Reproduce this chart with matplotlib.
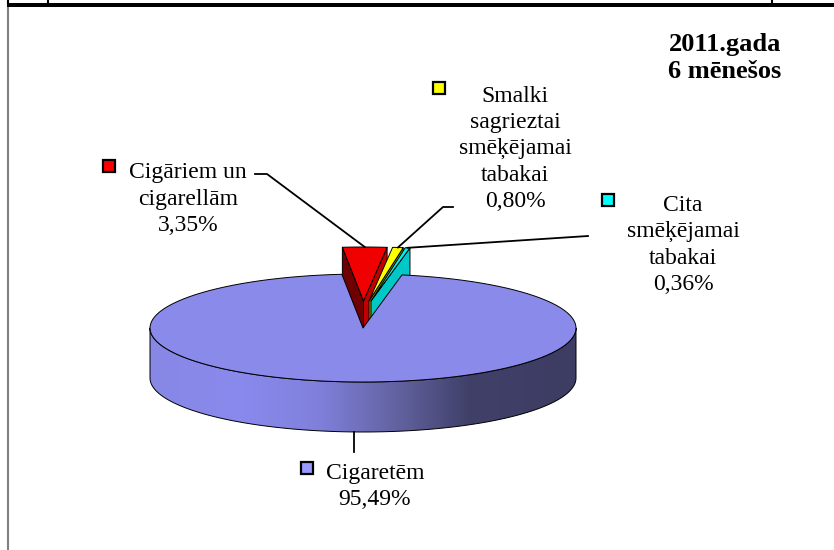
import numpy as np
import matplotlib
matplotlib.use("Agg")
import matplotlib.pyplot as plt
from matplotlib.patches import Polygon, Rectangle

# data
labels = ["Cigaretēm", "Cigāriem un\ncigarellām", "Smalki\nsagrieztai\nsmēķējamai\ntabakai", "Cita\nsmēķējamai\ntabakai"]
shares = [95.49, 3.35, 0.80, 0.36]
pct_text = ["95,49%", "3,35%", "0,80%", "0,36%"]
title_text = "2011.gada\n6 mēnešos"

# styling
top_colors = ["#8A8AEB", "#F00000", "#FFFF00", "#00F0F0"]
key_colors = ["#9999FF", "#FF0000", "#FFFF00", "#00FFFF"]
left_side = [None, "#700000", "#8C8C00", "#008C8C"]
right_side = [None, "#C00000", "#A0A000", "#00C8C8"]
explode = [(0, 0), (0.5, -27), (6, -27), (8, -27)]

# geometry of the 3d pie (pixels)
cx, cy, a, b, depth = 363, 328, 213, 54, 50
start = 439.46
edges = start - np.concatenate([[0], np.cumsum(shares)]) * 3.6

fig = plt.figure(figsize=(8.34, 5.5), dpi=100)
ax = fig.add_axes([0, 0, 1, 1])


def pt(th, r=1.0, z=0.0, off=(0, 0)):
    t = np.radians(th)
    return cx + a * r * np.cos(t) + off[0], cy - b * r * np.sin(t) + z + off[1]


def arc(t0, t1, z=0.0, off=(0, 0), n=120):
    ths = np.linspace(t0, t1, n)
    xs, ys = pt(ths, 1.0, z, off)
    return list(zip(xs, ys))


def poly(points, fc, z=2, lw=0.7):
    p = Polygon(points, closed=True, facecolor=fc, edgecolor="black", lw=lw, zorder=z, joinstyle="round")
    ax.add_patch(p)
    return p


# small exploded slices (drawn first, the big slice covers their lower parts)
for i in range(1, len(shares)):
    hi, lo = edges[i], edges[i + 1]
    off = explode[i]
    c0 = pt(0, 0, 0, off)
    c1 = pt(0, 0, depth, off)
    if np.cos(np.radians(hi)) < 0:
        poly([c0, pt(hi, 1, 0, off), pt(hi, 1, depth, off), c1], left_side[i])
    if np.cos(np.radians(lo)) > 0:
        poly([c0, pt(lo, 1, 0, off), pt(lo, 1, depth, off), c1], right_side[i])
    poly([c0] + arc(lo, hi, 0, off), top_colors[i])

# big slice: side wall with gradient
t_lo, t_hi = edges[1], edges[0]
wall = arc(180, 360) + arc(360, 180, depth)
wall_patch = poly(wall, "none", z=3)
gx = np.linspace(cx - a, cx + a, 400)
stops_x = [150, 240, 320, 400, 470, 576]
stops_c = np.array([[0.53, 0.53, 0.90], [0.54, 0.54, 0.93], [0.50, 0.50, 0.86],
                    [0.38, 0.38, 0.62], [0.25, 0.25, 0.41], [0.24, 0.24, 0.39]])
grad = np.stack([np.interp(gx, stops_x, stops_c[:, k]) for k in range(3)], axis=-1)[None, :, :]
im = ax.imshow(grad, extent=(cx - a, cx + a, cy + depth + b + 2, cy - 2), aspect="auto", zorder=2.5)
im.set_clip_path(wall_patch)

# big slice: top face
poly([pt(0, 0)] + arc(t_lo, t_hi), top_colors[0], z=4)

# labels with legend keys and leader lines
# (anchor = center x, baseline of the last line)
font = "Liberation Serif"
lab_pos = [(375, 505), (188, 231), (515, 207), (683, 290)]
key_pos = [(301, 462), (103, 160), (433, 82), (602, 194)]
for i in range(len(shares)):
    ax.text(lab_pos[i][0], lab_pos[i][1], labels[i] + "\n" + pct_text[i], ha="center", va="baseline",
            fontsize=17, family=font, linespacing=1.33, zorder=6)
    ax.add_patch(Rectangle(key_pos[i], 12, 12, facecolor=key_colors[i], edgecolor="black", lw=1.6, zorder=6))

mid = [(edges[i] + edges[i + 1]) / 2 for i in range(len(shares))]
# cigarettes: straight down from the front of the wall
x0, y0 = pt(mid[0], 1, depth)
ax.plot([x0, x0], [y0, y0 + 20], color="black", lw=1.3, zorder=5)
x1, y1 = pt(mid[1], 1, 0, explode[1])
ax.plot([255, 267, x1], [174, 174, y1], color="black", lw=1.3, zorder=5)
x2, y2 = pt(mid[2], 1, 0, explode[2])
ax.plot([453, 443, x2], [207, 207, y2], color="black", lw=1.3, zorder=5)
x3, y3 = pt(mid[3], 1, 0, explode[3])
ax.plot([588, x3], [236, y3], color="black", lw=1.3, zorder=5)

ax.text(725, 78, title_text, ha="center", va="baseline", fontsize=19, fontweight="bold",
        family=font, linespacing=1.2, zorder=6)

# page frame remains
ax.plot([8, 8], [2, 550], color="#808080", lw=1.5, zorder=7)
ax.add_patch(Rectangle((7, 3), 827, 4, facecolor="black", edgecolor="none", zorder=7))
for xv in [8, 48, 772]:
    ax.plot([xv, xv], [0, 3], color="black", lw=1.5, zorder=7)

ax.set_xlim(0, 834)
ax.set_ylim(550, 0)
ax.axis("off")
fig.savefig("out.png", dpi=100)
